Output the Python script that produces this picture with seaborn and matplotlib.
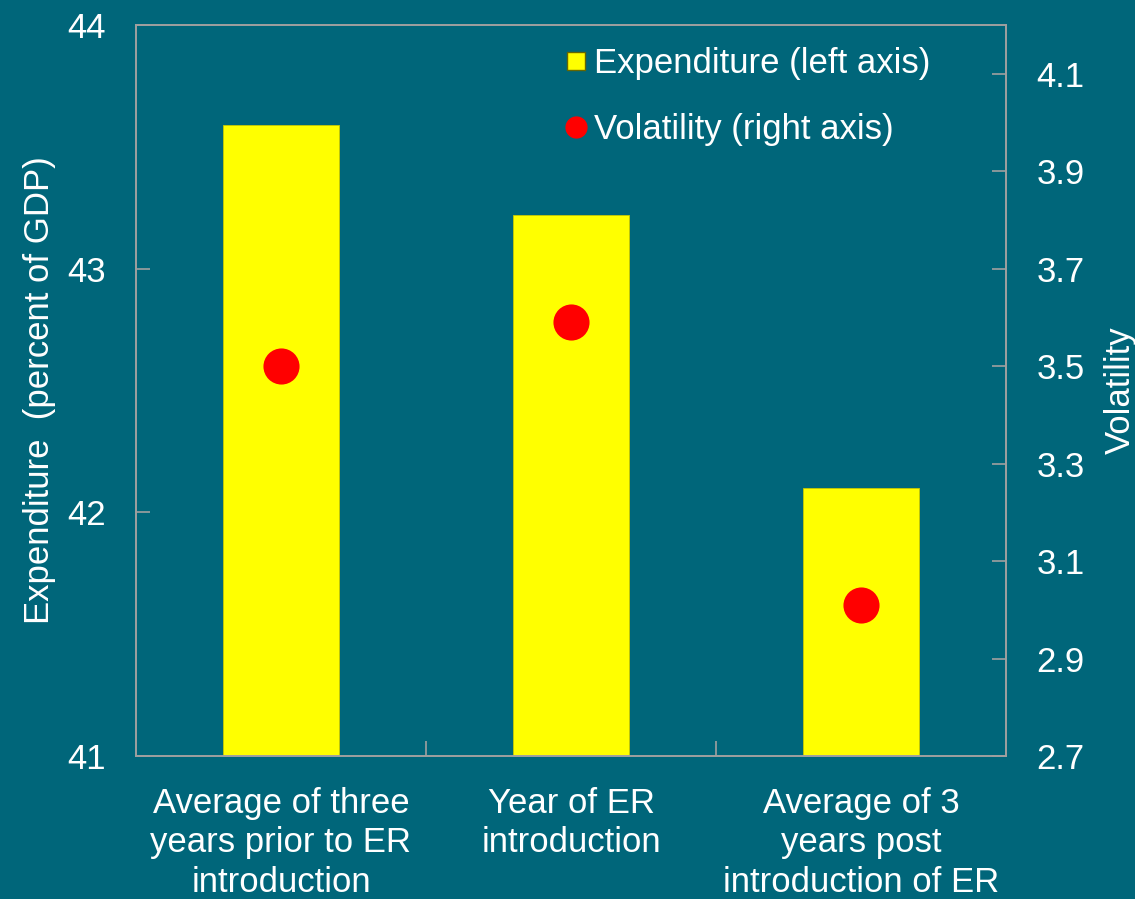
import matplotlib
matplotlib.use("Agg")
import matplotlib.pyplot as plt
from matplotlib.lines import Line2D
from matplotlib.ticker import FormatStrFormatter
import seaborn as sns
import pandas as pd

# Data
categories = [
    "Average of three\nyears prior to ER\nintroduction",
    "Year of ER\nintroduction",
    "Average of 3\nyears post\nintroduction of ER",
]
expenditure = [43.59, 43.22, 42.10]   # percent of GDP (left axis)
volatility = [3.50, 3.59, 3.01]       # right axis
left_ticks = [41, 42, 43, 44]
right_ticks = [2.7, 2.9, 3.1, 3.3, 3.5, 3.7, 3.9, 4.1]

bg = "#00667A"
spine_col = "#A0A0A0"
fs = 25

sns.set_style("ticks")
plt.rcParams["font.family"] = ["Liberation Sans", "DejaVu Sans"]
plt.rcParams["text.color"] = "white"

df = pd.DataFrame({"period": categories,
                   "expenditure": expenditure,
                   "volatility": volatility})

fig = plt.figure(figsize=(11.35, 8.99), dpi=100, facecolor=bg)
ax = fig.add_axes([136 / 1135, 1 - 756 / 899, 870 / 1135, 731 / 899])
ax.set_facecolor(bg)

sns.barplot(data=df, x="period", y="expenditure", color="#FFFF00",
            saturation=1, width=0.4, edgecolor="#C8C800", linewidth=0.6,
            ax=ax)
ax.set_ylim(41, 44)
ax.set_yticks(left_ticks)
ax.set_xlim(-0.5, 2.5)

ax2 = ax.twinx()
sns.stripplot(data=df, x="period", y="volatility", color="#FF0000",
              size=26, jitter=False, linewidth=0, ax=ax2, zorder=5)
ax2.set_ylim(2.7, 4.2)
ax2.set_yticks(right_ticks)
ax2.yaxis.set_major_formatter(FormatStrFormatter("%.1f"))
ax2.set_xlim(-0.5, 2.5)

# X axis: labels at bar centres, tick marks between categories
ax.set_xticks([0, 1, 2])
ax.set_xticklabels(categories)
ax.set_xticks([0.5, 1.5], minor=True)
ax.tick_params(axis="x", which="major", length=0, pad=22,
               labelsize=fs, labelcolor="white")
ax.tick_params(axis="x", which="minor", direction="in", length=11,
               width=1.2, color=spine_col)
for lab in ax.get_xticklabels():
    lab.set_multialignment("center")
    lab.set_linespacing(1.25)

ax.tick_params(axis="y", direction="in", length=10, width=1.2,
               color=spine_col, labelsize=fs, labelcolor="white", pad=22)
ax2.tick_params(axis="y", direction="in", length=10, width=1.2,
                color=spine_col, labelsize=fs, labelcolor="white", pad=22)

for a in (ax, ax2):
    for s in a.spines.values():
        s.set_color(spine_col)
        s.set_linewidth(1.2)
        s.set_visible(True)

ax.set_xlabel("")
ax.set_ylabel("Expenditure  (percent of GDP)", fontsize=fs, color="white",
              labelpad=8)
ax2.set_ylabel("Volatility", fontsize=fs, color="white", labelpad=14)

handles = [
    Line2D([], [], linestyle="none", marker="s", markersize=13,
           markerfacecolor="#FFFF00", markeredgecolor="#666600",
           markeredgewidth=1),
    Line2D([], [], linestyle="none", marker="o", markersize=15,
           markerfacecolor="#FF0000", markeredgecolor="#FF0000"),
]
leg = ax2.legend(handles, ["Expenditure (left axis)", "Volatility (right axis)"],
                 loc="upper left", bbox_to_anchor=(566 / 1135, 1 - 47 / 899),
                 bbox_transform=fig.transFigure, frameon=False, fontsize=fs,
                 handlelength=0.6, handletextpad=0.22, labelspacing=0.95,
                 borderpad=0, borderaxespad=0)
for t in leg.get_texts():
    t.set_color("white")

fig.savefig("out.png", dpi=100, facecolor=bg)
